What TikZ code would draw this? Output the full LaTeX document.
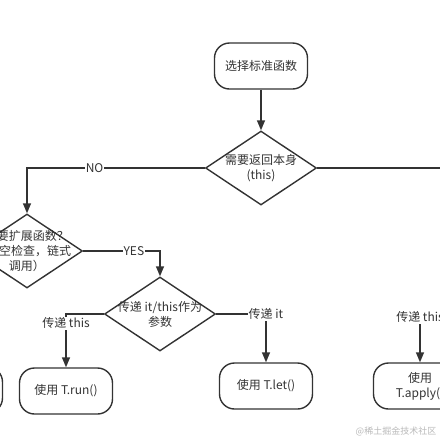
\documentclass[tikz,border=0pt]{standalone}
\usepackage{fontspec}
\setmainfont{Noto Sans CJK SC}
\usetikzlibrary{shapes.geometric,arrows.meta}
\definecolor{ink}{HTML}{333333}
\begin{document}
\begin{tikzpicture}[x=1pt, y=-1pt, color=ink, line width=1.4pt, >={Triangle[length=10pt,width=8pt]},
			box/.style = {draw, rounded corners=15pt, minimum width=93pt, minimum height=46pt, inner sep=0pt, align=center, font=\fontsize{12}{15}\selectfont},
			choice/.style = {draw, diamond, minimum width=111pt, minimum height=74pt, inner sep=0pt},
			inside/.style = {align=center, inner sep=0pt, font=\fontsize{12}{15}\selectfont},
			word/.style = {fill=white, inner sep=1pt, font=\fontsize{12}{14}\selectfont}]
			
			\useasboundingbox (0,0) rectangle (440,440);
			\clip (0,0) rectangle (440,440);
			
			\node[box] (start) at (261,66) {选择标准函数};
			
			\node[choice] (q1) at (261,168) {};
			\node[choice] (q2) at (27,251) {};
			\node[choice] (q3) at (160,314) {};
			
			\node[inside] (q1t) at (q1) {需要返回本身\\(this)};
			\node[inside] (q2t) at (q2) {需要扩展函数？\\(非空检查，链式\\调用）};
			\node[inside] (q3t) at (q3) {传递 it/this作为\\参数};
			
			\node[box] (also) at (-44,390) {};
			\node[box] (run) at (66,391) {使用 T.run()};
			\node[box] (let) at (266,386) {使用 T.let()};
			\node[box] (apply) at (420,386) {使用\\T.apply()};
			
			\coordinate (right1) at (470,168);
			\coordinate (right2) at (480,317);
			
			\draw[->] (start) -- (q1);
			\draw[-] (q1.east) -- (right1);
			\draw[->] (q1.west) -| (q2.north) node[word, pos=0.31] {NO};
			\draw[->] (q2.east) -| (q3.north) node[word, pos=0.33] {YES};
			\draw[->] (q3.west) -| (run.north) node[word, pos=0.585] {传递 this};
			\draw[->] (q3.east) -| (let.north) node[word, pos=0.5] {传递 it};
			\draw[->] (right2) -| (apply.north) node[word, pos=0.5] {传递 this};
			
			\node[text=gray!55, font=\fontsize{9}{10}\selectfont] (mark1) at (396,431) {@稀土掘金技术社区};
			
		\end{tikzpicture}
\end{document}
